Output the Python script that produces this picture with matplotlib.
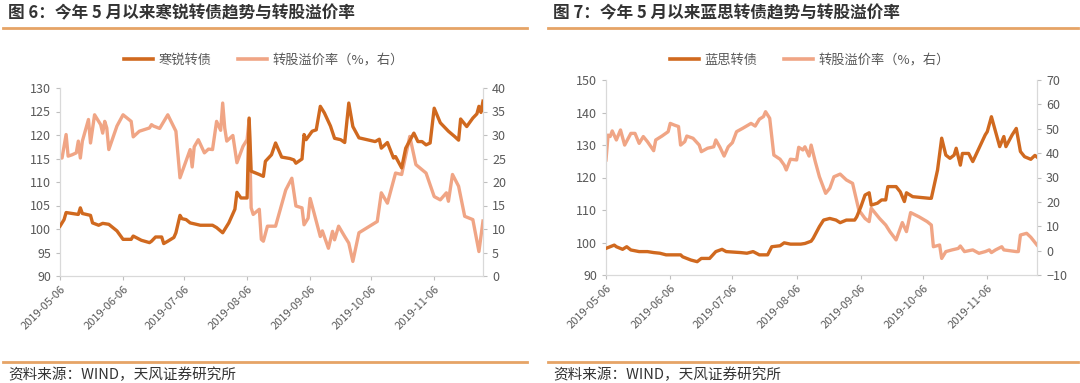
import pandas as pd
import matplotlib
matplotlib.use("Agg")
import matplotlib.pyplot as plt
import matplotlib.dates as mdates
from matplotlib.lines import Line2D

plt.rcParams['font.family'] = ['Noto Sans CJK SC', 'DejaVu Sans']

# ---- data ----
# 图6 寒锐转债
hr_bond_dates = ['05-06','05-08','05-09','05-12','05-15','05-16','05-17','05-21','05-22','05-25',
                 '05-27','05-30','06-03','06-06','06-10','06-11','06-15','06-19','06-20','06-22',
                 '06-25','06-26','06-28','07-01','07-02','07-04','07-05','07-07','07-09','07-14',
                 '07-20','07-22','07-25','07-28','07-31','08-01','08-03','08-06','08-07','08-08',
                 '08-12','08-14','08-15','08-18','08-20','08-23','08-27','08-29','08-30','09-02',
                 '09-03','09-04','09-07','09-09','09-11','09-13','09-16','09-18','09-21','09-23',
                 '09-25','09-27','09-30','10-08','10-10','10-11','10-14','10-17','10-18','10-21',
                 '10-23','10-27','10-29','10-31','11-02','11-04','11-06','11-09','11-13','11-16',
                 '11-18','11-19','11-22','11-25','11-27','11-28','11-29','11-30']
hr_bond = [100.6,102.0,103.5,103.3,103.1,104.5,103.3,102.9,101.3,100.8,
           101.2,101.0,99.6,97.8,97.8,98.5,97.6,97.1,97.4,98.3,
           98.3,96.9,97.4,98.2,99.2,102.9,102.2,102.0,101.3,100.8,
           100.8,100.3,99.2,101.3,104.2,107.8,106.6,106.6,123.6,112.3,
           111.6,111.2,114.4,115.8,118.3,115.3,115.0,114.7,114.0,114.9,
           120.1,119.0,120.8,121.1,126.1,124.7,121.9,119.3,119.0,118.4,
           126.8,121.8,119.4,118.6,119.1,117.2,118.4,115.1,115.4,113.0,
           117.2,120.4,118.6,118.6,117.9,118.3,125.7,122.6,120.8,119.7,
           118.9,123.4,121.8,123.6,124.5,126.1,124.8,127.2]

hr_prem_dates = ['05-06','05-07','05-09','05-10','05-12','05-14','05-15','05-16','05-17','05-20',
                 '05-21','05-23','05-26','05-27','05-28','05-29','05-30','06-03','06-06','06-10',
                 '06-11','06-14','06-19','06-20','06-21','06-24','06-28','07-02','07-04','07-09',
                 '07-10','07-11','07-13','07-16','07-18','07-20','07-22','07-24','07-25','07-26',
                 '07-27','07-30','08-01','08-04','08-06','08-07','08-08','08-09','08-12','08-13',
                 '08-14','08-16','08-20','08-25','08-28','08-30','09-02','09-03','09-05','09-06',
                 '09-08','09-11','09-12','09-15','09-17','09-18','09-20','09-23','09-25','09-27',
                 '09-30','10-09','10-11','10-14','10-18','10-21','10-25','10-28','11-02','11-06',
                 '11-09','11-12','11-13','11-15','11-18','11-21','11-25','11-28','11-30']
hr_prem = [25.1,25.1,30.1,25.5,25.8,26.2,28.7,25.1,28.7,33.3,
           28.3,34.3,32.2,30.4,32.9,31.5,26.9,31.9,34.3,32.9,
           29.6,30.8,31.5,32.2,31.9,31.4,34.3,30.8,20.9,26.9,
           23.2,27.5,29.0,26.2,27.0,26.9,32.9,31.0,36.8,31.5,
           28.7,29.9,24.1,27.6,29.0,33.3,14.5,13.1,14.2,7.8,
           7.4,10.6,10.6,18.3,20.8,14.9,14.5,10.9,12.3,16.5,
           13.3,8.4,9.6,5.9,9.5,7.7,10.6,8.4,7.0,3.1,
           9.2,11.6,17.7,15.5,21.9,21.6,29.7,23.7,21.9,16.9,
           16.2,17.7,15.9,21.6,19.1,12.7,12.0,5.2,11.7]

# 图7 蓝思转债
ls_bond_dates = ['05-06','05-08','05-10','05-11','05-14','05-16','05-18','05-22','05-26','05-29',
                 '06-01','06-04','06-08','06-11','06-12','06-16','06-19','06-21','06-25','06-28',
                 '07-01','07-03','07-10','07-13','07-16','07-19','07-23','07-25','07-29','07-31',
                 '08-03','08-08','08-10','08-13','08-14','08-17','08-19','08-22','08-25','08-27',
                 '08-30','09-03','09-04','09-06','09-08','09-10','09-11','09-14','09-16','09-18',
                 '09-19','09-23','09-25','09-27','09-28','10-01','10-09','10-10','10-13','10-15',
                 '10-17','10-19','10-21','10-22','10-24','10-25','10-28','10-30','11-02','11-05',
                 '11-06','11-08','11-10','11-12','11-14','11-15','11-18','11-20','11-22','11-24',
                 '11-27','11-29','11-30']
ls_bond = [98.2,98.7,99.2,98.7,97.9,98.7,97.7,97.2,97.2,96.9,
           96.7,96.2,96.2,96.2,95.6,94.6,94.1,95.1,95.1,97.2,
           97.9,97.2,96.9,96.7,97.2,96.2,96.2,98.7,99.0,99.9,
           99.5,99.5,99.7,100.4,101.3,104.9,106.9,107.4,106.9,106.1,
           106.9,106.9,107.9,111.0,114.6,115.3,111.5,112.1,113.1,113.1,
           117.2,117.2,115.6,112.6,115.3,114.1,113.6,113.6,122.3,132.1,
           126.9,125.9,126.9,129.0,123.8,127.4,127.4,124.9,129.0,133.1,
           134.1,138.7,134.1,129.5,132.6,129.5,133.1,135.1,128.0,126.4,
           125.6,126.8,126.3]

ls_prem_dates = ['05-06','05-07','05-08','05-09','05-11','05-13','05-15','05-18','05-20','05-22',
                 '05-24','05-26','05-29','05-30','06-02','06-05','06-06','06-08','06-10','06-11',
                 '06-13','06-14','06-17','06-20','06-21','06-24','06-27','06-28','06-30','07-02',
                 '07-04','07-06','07-08','07-11','07-15','07-17','07-19','07-21','07-22','07-24',
                 '07-26','07-29','07-31','08-01','08-03','08-06','08-07','08-09','08-10','08-12',
                 '08-13','08-15','08-17','08-20','08-22','08-24','08-27','08-30','09-02','09-05',
                 '09-08','09-10','09-11','09-15','09-18','09-20','09-23','09-26','09-28','09-30',
                 '10-04','10-08','10-10','10-11','10-14','10-15','10-17','10-20','10-23','10-24',
                 '10-26','10-30','11-02','11-05','11-07','11-08','11-10','11-13','11-14','11-20',
                 '11-21','11-22','11-25','11-27','11-30']
ls_prem = [37.2,47.4,46.8,49.1,45.4,49.5,43.3,48.1,48.1,44.0,
           46.8,44.7,41.0,45.4,47.0,48.8,52.2,51.5,50.9,43.3,
           44.7,47.0,46.1,43.3,40.6,42.0,42.6,45.4,42.4,38.8,
           42.6,44.3,48.8,50.2,52.2,51.1,53.9,55.0,57.0,54.3,
           39.2,37.5,35.1,33.1,37.5,37.2,42.4,41.3,42.6,38.8,
           43.3,36.5,30.3,23.5,25.6,30.3,31.4,29.0,27.6,16.7,
           13.2,11.9,17.4,13.2,10.5,7.8,4.4,11.5,7.8,15.6,
           13.9,11.9,10.5,1.6,2.3,-3.2,-0.4,0.3,0.9,1.9,
           -0.4,0.3,-1.1,-0.4,0.3,-0.8,0.3,1.6,0.3,-0.4,
           -0.4,6.4,7.1,5.5,2.3]

DARK = '#D0691F'
LIGHT = '#F0A585'
GRAY = '#595959'
RULE = '#E6A466'


def to_dates(lst):
    return pd.to_datetime(['2019-' + s for s in lst])


fig = plt.figure(figsize=(10.8, 3.83), dpi=100)
W, H = 1080, 383


def px_axes(x0, y_top, x1, y_bot):
    return fig.add_axes([x0 / W, 1 - y_bot / H, (x1 - x0) / W, (y_bot - y_top) / H])


def panel(x0, x1, ytop, ybot, title, name, bd, bv, pd_, pv, lylim, lyticks, rylim, ryticks,
          ttl_x, rule_x0, rule_x1, leg_x):
    ax = px_axes(x0, ytop, x1, ybot)
    ax2 = ax.twinx()
    ax.plot(to_dates(bd), bv, color=DARK, lw=2.4, zorder=3)
    ax2.plot(to_dates(pd_), pv, color=LIGHT, lw=2.4, zorder=2)
    ax.set_zorder(ax2.get_zorder() + 1)
    ax.patch.set_visible(False)

    ax.set_ylim(*lylim)
    ax.set_yticks(lyticks)
    ax2.set_ylim(*rylim)
    ax2.set_yticks(ryticks)
    ax.set_xlim(pd.Timestamp('2019-05-06'), pd.Timestamp('2019-11-30'))
    ax.xaxis.set_major_locator(mdates.MonthLocator(bymonthday=6))
    ax.xaxis.set_major_formatter(mdates.DateFormatter('%Y-%m-%d'))
    for lab in ax.get_xticklabels():
        lab.set_rotation(45)
        lab.set_ha('right')
        lab.set_rotation_mode('anchor')
    for a in (ax, ax2):
        a.spines['top'].set_visible(False)
        for s in ('left', 'right', 'bottom'):
            a.spines[s].set_color('#D9D9D9')
        a.tick_params(colors=GRAY, labelsize=9, length=3, width=0.8)
        a.tick_params(axis='both', color='#BFBFBF')
    ax.tick_params(axis='x', labelsize=8, pad=3)

    # title, rules, source
    fig.text(ttl_x / W, 1 - 13 / H, title, fontsize=12, fontweight='bold', color='#333333',
             ha='left', va='center')
    fig.add_artist(Line2D([rule_x0 / W, rule_x1 / W], [1 - 28 / H, 1 - 28 / H], color=RULE, lw=2))
    fig.add_artist(Line2D([rule_x0 / W, rule_x1 / W], [1 - 362 / H, 1 - 362 / H], color=RULE, lw=2))
    fig.text(ttl_x / W, 1 - 375 / H, '资料来源：WIND，天风证券研究所', fontsize=10.5,
             color='#333333', ha='left', va='center')

    handles = [Line2D([], [], color=DARK, lw=2.6), Line2D([], [], color=LIGHT, lw=2.6)]
    fig.legend(handles, [name, '转股溢价率（%，右）'], loc='center',
               bbox_to_anchor=(leg_x / W, 1 - 60 / H), ncol=2, frameon=False,
               fontsize=9.5, labelcolor=GRAY, handlelength=2.2, columnspacing=2.0,
               handletextpad=0.4)
    return ax


panel(60, 483, 88, 276, '图 6：今年 5 月以来寒锐转债趋势与转股溢价率', '寒锐转债',
      hr_bond_dates, hr_bond, hr_prem_dates, hr_prem,
      (90, 130), range(90, 131, 5), (0, 40), range(0, 41, 5),
      8, 3, 527, 264)
panel(606, 1037, 80, 275, '图 7：今年 5 月以来蓝思转债趋势与转股溢价率', '蓝思转债',
      ls_bond_dates, ls_bond, ls_prem_dates, ls_prem,
      (90, 150), range(90, 151, 10), (-10, 70), range(-10, 71, 10),
      553, 548, 1078, 810)

fig.savefig('out.png', dpi=100)
